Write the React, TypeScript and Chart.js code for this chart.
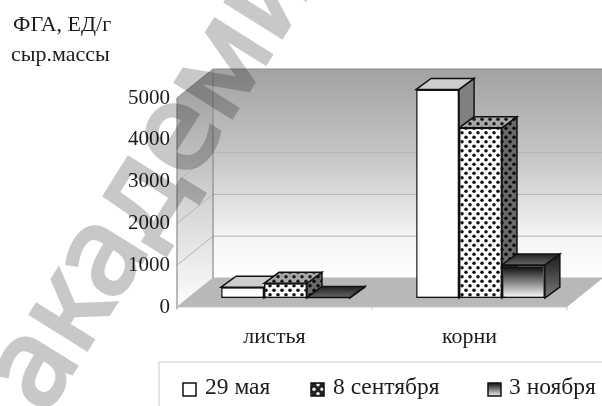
import React, { useEffect, useRef } from "react";
import { Chart, registerables } from "chart.js";

Chart.register(...registerables);

const categories = ["листья", "корни"];
const seriesNames = ["29 мая", "8 сентября", "3 ноября"];
const may29 = [260, 4990];
const sep8 = [350, 4070];
const nov3 = [10, 790];
const yTicks = [0, 1000, 2000, 3000, 4000, 5000];
const titleLines = ["ФГА, ЕД/г", "сыр.массы"];
const watermark = "академия";

const SERIF = '"Liberation Serif"';
const INK = "#1c1c1c";

function dotPattern(bg: string, dot: string) {
  const c = document.createElement("canvas");
  c.width = 8;
  c.height = 9;
  const g = c.getContext("2d")!;
  g.fillStyle = bg;
  g.fillRect(0, 0, 8, 9);
  g.fillStyle = dot;
  for (const [x, y] of [[2, 2.25], [6, 6.75]]) {
    g.beginPath();
    g.arc(x, y, 1.75, 0, Math.PI * 2);
    g.fill();
  }
  return document.createElement("canvas").getContext("2d")!.createPattern(c, "repeat")!;
}

function poly(ctx: CanvasRenderingContext2D, pts: number[][], fill: any, stroke?: string, lw = 1) {
  ctx.beginPath();
  pts.forEach(([x, y], i) => (i ? ctx.lineTo(x, y) : ctx.moveTo(x, y)));
  ctx.closePath();
  if (fill) {
    ctx.fillStyle = fill;
    ctx.fill();
  }
  if (stroke) {
    ctx.strokeStyle = stroke;
    ctx.lineWidth = lw;
    ctx.stroke();
  }
}

const scene = {
  id: "scene",
  beforeDatasetsDraw(chart: any) {
    const { ctx, scales } = chart;
    const y = scales.y;
    const x = scales.x;
    const f = { dx: -11, dy: 9 };
    const b = { dx: 25, dy: -20 };
    const L = x.left;
    const R = x.right;
    const top = y.getPixelForValue(5000);
    const bot = y.getPixelForValue(0);
    ctx.save();
    const wall = ctx.createLinearGradient(0, top + b.dy, 0, bot + b.dy);
    wall.addColorStop(0, "#a2a2a2");
    wall.addColorStop(0.45, "#c9c9c9");
    wall.addColorStop(0.8, "#f4f4f4");
    wall.addColorStop(1, "#ffffff");
    poly(ctx, [[L + b.dx, top + b.dy], [R + b.dx, top + b.dy], [R + b.dx, bot + b.dy], [L + b.dx, bot + b.dy]], wall);
    const side = ctx.createLinearGradient(0, top + f.dy, 0, bot + f.dy);
    side.addColorStop(0, "#a6a6a6");
    side.addColorStop(0.5, "#d4d4d4");
    side.addColorStop(1, "#fdfdfd");
    poly(ctx, [[L + f.dx, top + f.dy], [L + b.dx, top + b.dy], [L + b.dx, bot + b.dy], [L + f.dx, bot + f.dy]], side);
    poly(ctx, [[L + f.dx, bot + f.dy], [L + b.dx, bot + b.dy], [R + b.dx, bot + b.dy], [R + f.dx, bot + f.dy]], "#b8b8b8");
    ctx.lineWidth = 1;
    for (const v of yTicks) {
      const p = y.getPixelForValue(v);
      ctx.strokeStyle = v === 5000 ? "#8a8a8a" : v === 0 ? "#b8b8b8" : "#b4b4b4";
      ctx.beginPath();
      ctx.moveTo(L + f.dx, p + f.dy);
      ctx.lineTo(L + b.dx, p + b.dy);
      ctx.lineTo(R + b.dx, p + b.dy);
      ctx.stroke();
    }
    ctx.strokeStyle = "#8c8c8c";
    ctx.lineWidth = 1.2;
    ctx.beginPath();
    ctx.moveTo(L + f.dx, top + f.dy);
    ctx.lineTo(L + f.dx, bot + f.dy + 2);
    ctx.moveTo(L + b.dx, top + b.dy);
    ctx.lineTo(L + b.dx, bot + b.dy);
    ctx.stroke();
    ctx.strokeStyle = "#c4c4c4";
    ctx.lineWidth = 1;
    ctx.beginPath();
    ctx.moveTo(L + f.dx, bot + f.dy);
    ctx.lineTo(R + f.dx, bot + f.dy);
    for (const i of [0, 1, 2]) {
      const xx = L + f.dx + (i * (R - L)) / 2;
      ctx.moveTo(xx, bot + f.dy);
      ctx.lineTo(xx, bot + f.dy + 3);
    }
    ctx.stroke();

    const ddx = 15;
    const ddy = -11;
    const topFills = ["#cdcdcd", dotPattern("#a8a8a8", "#1a1a1a"), null];
    const sideFills = ["#808080", dotPattern("#6a6a6a", "#0c0c0c"), null];
    chart.data.datasets.forEach((_: any, di: number) => {
      const meta = chart.getDatasetMeta(di);
      meta.data.forEach((bar: any) => {
        const { x: cx, y: ty, base, width } = bar.getProps(["x", "y", "base", "width"], true);
        const x0 = cx - width / 2;
        const x1 = cx + width / 2;
        let tf: any = topFills[di];
        let sf: any = sideFills[di];
        if (di === 2) {
          const g1 = ctx.createLinearGradient(0, ty + ddy, 0, ty);
          g1.addColorStop(0, "#222");
          g1.addColorStop(1, "#666");
          tf = g1;
          const g2 = ctx.createLinearGradient(0, ty + ddy, 0, base);
          g2.addColorStop(0, "#1a1a1a");
          g2.addColorStop(1, "#7a7a7a");
          sf = g2;
        }
        poly(ctx, [[x1, ty], [x1 + ddx, ty + ddy], [x1 + ddx, base + ddy], [x1, base]], sf, "#111", 1.5);
        poly(ctx, [[x0, ty], [x0 + ddx, ty + ddy], [x1 + ddx, ty + ddy], [x1, ty]], tf, "#111", 1.5);
      });
    });
    ctx.restore();
  },
  afterDraw(chart: any) {
    const { ctx } = chart;
    ctx.save();
    ctx.fillStyle = INK;
    ctx.textBaseline = "middle";
    ctx.textAlign = "left";
    ctx.font = `22px ${SERIF}`;
    ctx.fillText(titleLines[0], 13, 25);
    ctx.fillText(titleLines[1], 11, 55);

    // legend
    ctx.strokeStyle = "#dcdcdc";
    ctx.lineWidth = 1.5;
    ctx.beginPath();
    ctx.moveTo(159, 406);
    ctx.lineTo(159, 362);
    ctx.lineTo(602, 362);
    ctx.stroke();
    const swatchX = [183, 311, 488];
    const textX = [205, 333, 509];
    const fills: any[] = ["#ffffff", dotPattern("#222", "#eee"), null];
    seriesNames.forEach((name, i) => {
      let fill = fills[i];
      if (i === 2) {
        const g = ctx.createLinearGradient(0, 383, 0, 395);
        g.addColorStop(0, "#111");
        g.addColorStop(1, "#ddd");
        fill = g;
      }
      poly(ctx, [[swatchX[i], 383], [swatchX[i] + 13, 383], [swatchX[i] + 13, 396], [swatchX[i], 396]], fill, "#111", 1.5);
      ctx.fillStyle = INK;
      ctx.font = `23.5px ${SERIF}`;
      ctx.fillText(name, textX[i], 388);
    });

    // overprinted publisher mark
    const layer = document.createElement("canvas");
    layer.width = 602;
    layer.height = 406;
    const w = layer.getContext("2d")!;
    w.fillStyle = "#c8c8c8";
    w.strokeStyle = "#c8c8c8";
    w.lineWidth = 4;
    w.font = '123px "Noto Sans"';
    w.translate(45, 416);
    w.rotate((-58 * Math.PI) / 180);
    w.strokeText(watermark, 0, 0);
    w.fillText(watermark, 0, 0);
    ctx.globalCompositeOperation = "multiply";
    ctx.drawImage(layer, 0, 0);
    ctx.restore();
  },
};

export default function App() {
  const ref = useRef<HTMLCanvasElement>(null);
  useEffect(() => {
    const front = (chartCtx: any) => {
      const g = chartCtx.chart.ctx.createLinearGradient(0, 265, 0, 298);
      g.addColorStop(0, "#000000");
      g.addColorStop(1, "#ffffff");
      return g;
    };
    const common = { categoryPercentage: 0.66, barPercentage: 1, borderColor: "#111", borderWidth: 1.5, borderSkipped: false };
    const chart = new Chart(ref.current!, {
      type: "bar",
      data: {
        labels: categories,
        datasets: [
          { label: seriesNames[0], data: may29, backgroundColor: "#ffffff", ...common },
          { label: seriesNames[1], data: sep8, backgroundColor: dotPattern("#ffffff", "#111"), ...common },
          { label: seriesNames[2], data: nov3, backgroundColor: front, ...common },
        ],
      },
      options: {
        responsive: false,
        animation: false,
        layout: { padding: { left: 0, right: 24, top: 89, bottom: 0 } },
        plugins: { legend: { display: false }, tooltip: { enabled: false } },
        scales: {
          x: {
            grid: { display: false },
            border: { display: false },
            ticks: { color: INK, font: { family: SERIF, size: 22 }, padding: 18, labelOffset: -11, maxRotation: 0 },
            afterFit: (s: any) => { s.height = 108; },
          },
          y: {
            min: 0,
            max: 5000,
            grid: { display: false },
            border: { display: false },
            afterBuildTicks: (s: any) => { s.ticks = yTicks.map((value) => ({ value })); },
            ticks: { color: INK, font: { family: SERIF, size: 21 }, padding: 10, labelOffset: 9, callback: (v: any) => String(v) },
            afterFit: (s: any) => { s.width = 188; },
          },
        },
      },
      plugins: [scene],
    } as any);
    return () => chart.destroy();
  }, []);
  return (
    <canvas
      ref={ref}
      width={602}
      height={406}
      style={{ position: "fixed", left: 0, top: 0, width: 602, height: 406, filter: "blur(0.4px)" }}
    />
  );
}
